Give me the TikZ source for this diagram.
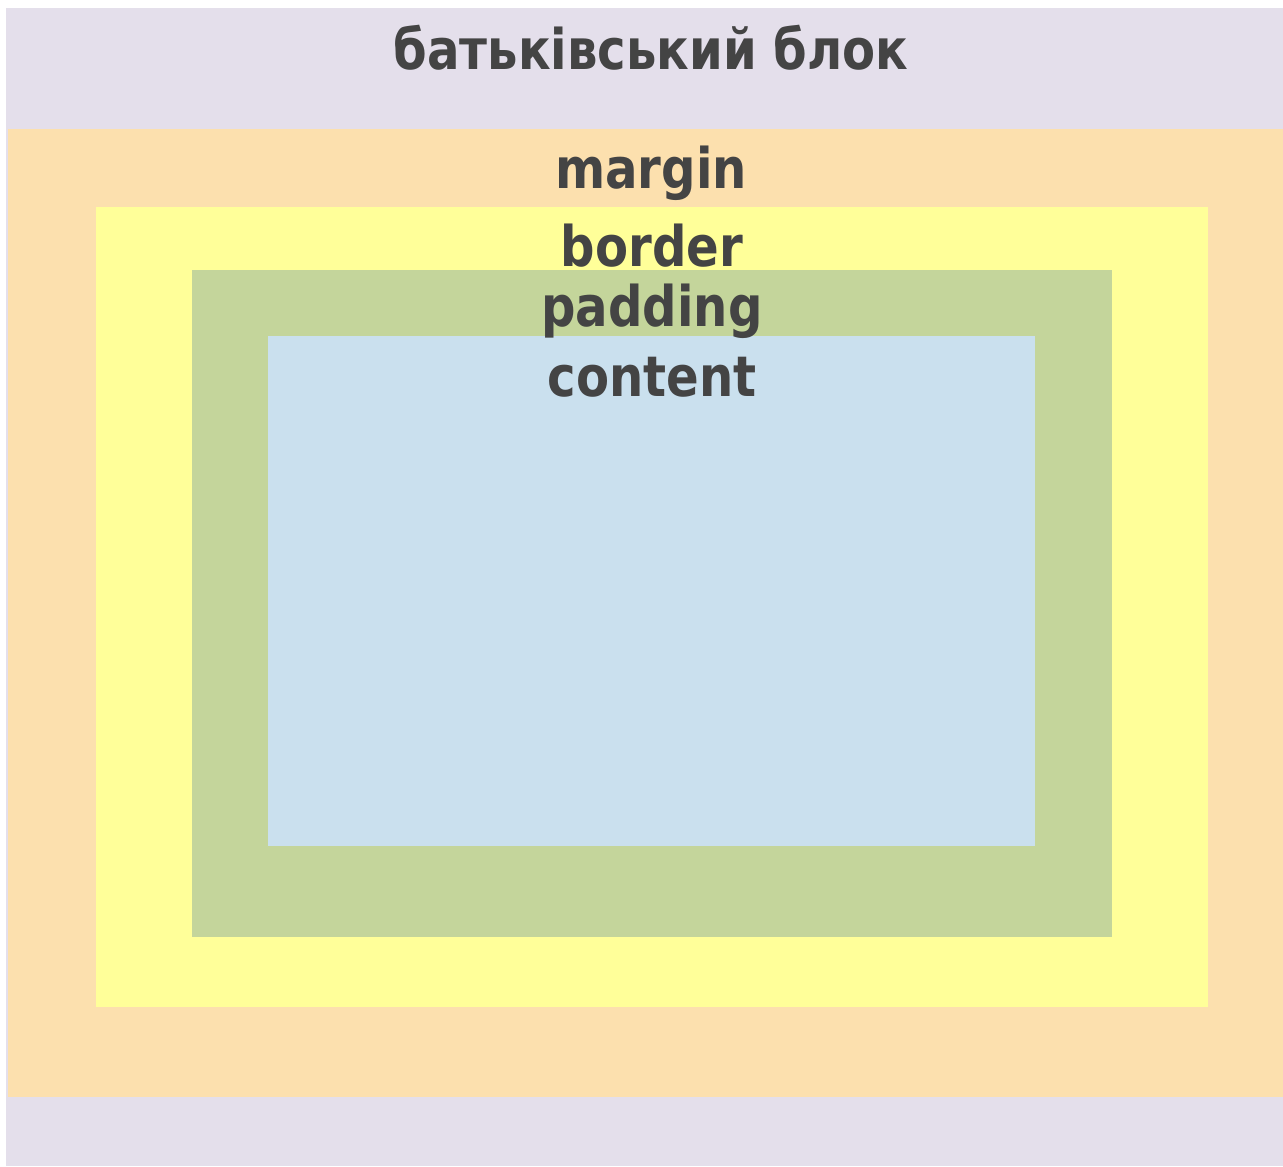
\documentclass[tikz,border=0pt]{standalone}
\usepackage{fontspec}
\setmainfont{DejaVu Sans}
\definecolor{parentc}{HTML}{E4DFEB}
\definecolor{marginc}{HTML}{FCE0AE}
\definecolor{borderc}{HTML}{FFFF99}
\definecolor{paddingc}{HTML}{C4D59B}
\definecolor{contentc}{HTML}{CAE0EE}
\definecolor{txtc}{HTML}{444444}
\begin{document}
\begin{tikzpicture}[x=1pt,y=-1pt,
  lbl/.style={anchor=base,inner sep=0pt,text=txtc,font=\fontsize{56}{60}\selectfont\bfseries,xscale=0.86,transform shape}]
\useasboundingbox (0,0) rectangle (1283,1167);
\fill[white] (0,0) rectangle (1283,1167);
\fill[parentc] (6,8) rectangle (1283,1166);
\fill[marginc] (8,129) rectangle (1283,1097);
\fill[borderc] (96,207) rectangle (1208,1007);
\fill[paddingc] (192,270) rectangle (1112,937);
\fill[contentc] (268,336) rectangle (1035,846);
\node[lbl] (parent) at (651,69) {батьківський блок};
\node[lbl] (margin) at (651,188) {margin};
\node[lbl] (border) at (652,266) {border};
\node[lbl] (padding) at (652,326) {padding};
\node[lbl] (content) at (652,396) {content};
\end{tikzpicture}
\end{document}
